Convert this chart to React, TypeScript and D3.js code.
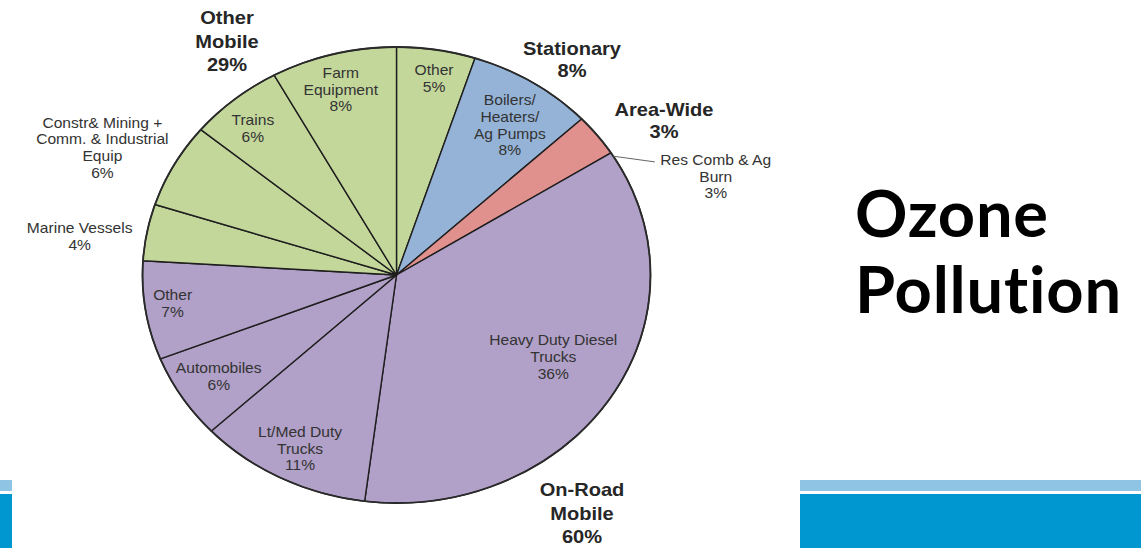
import React from "react";
import * as d3 from "d3";

// ---- data ----
const slices = [
  "Other",
  "Boilers/ Heaters/ Ag Pumps",
  "Res Comb & Ag Burn",
  "Heavy Duty Diesel Trucks",
  "Lt/Med Duty Trucks",
  "Automobiles",
  "Other",
  "Marine Vessels",
  "Constr& Mining + Comm. & Industrial Equip",
  "Trains",
  "Farm Equipment",
];
const sliceValues = [5, 8, 3, 36, 11, 6, 7, 4, 6, 6, 8];
const sliceGroups = ["mobile", "stationary", "area", "onroad", "onroad", "onroad", "onroad", "mobile", "mobile", "mobile", "mobile"];
const sliceLabelLines = [
  ["Other", "5%"],
  ["Boilers/", "Heaters/", "Ag Pumps", "8%"],
  ["Res Comb & Ag", "Burn", "3%"],
  ["Heavy Duty Diesel", "Trucks", "36%"],
  ["Lt/Med Duty", "Trucks", "11%"],
  ["Automobiles", "6%"],
  ["Other", "7%"],
  ["Marine Vessels", "4%"],
  ["Constr& Mining +", "Comm. & Industrial", "Equip", "6%"],
  ["Trains", "6%"],
  ["Farm", "Equipment", "8%"],
];
const groupNames = ["Other Mobile", "Stationary", "Area-Wide", "On-Road Mobile"];
const groupValues = [29, 8, 3, 60];
const groupLabelLines = [
  ["Other", "Mobile", "29%"],
  ["Stationary", "8%"],
  ["Area-Wide", "3%"],
  ["On-Road", "Mobile", "60%"],
];
const titleLines = ["Ozone", "Pollution"];

// ---- layout / style ----
const W = 1141;
const H = 548;
const CX = 396.5;
const CY = 275;
const RY = 228;
const SX = 254 / 228;
const groupColor: Record<string, string> = {
  mobile: "#c4d79b",
  stationary: "#95b3d7",
  area: "#e0908d",
  onroad: "#b1a0c7",
};
// label polar placement per slice: radius (px) and angle offset (deg)
const labelR = [199, 181, 303, 163, 194, 189, 203, 287, 293, 195, 192];
const labelDA = [0.75, 1.8, 18.85, -2.1, -0.5, 0, 0.9, -3.1, -3.1, -1.8, -0.7];
// group label positions (screen x, first line center y)
const groupLabelPos = [
  [227, 18],
  [572, 49],
  [664, 110],
  [582, 490],
];
const groupLineH = [23.5, 22, 22, 23.5];

const polar = (angDeg: number, r: number): [number, number] => {
  const a = (angDeg * Math.PI) / 180;
  return [Math.sin(a) * r, -Math.cos(a) * r];
};

export default function App() {
  const pie = d3.pie<number>().value((d) => d).sort(null)(sliceValues);
  const arc = d3.arc<d3.PieArcDatum<number>>().innerRadius(0).outerRadius(RY);

  const innerFont = 14;
  const innerLH = 16.8;

  // leader line for Res Comb
  const resArc = pie[2];
  const leadStartAng = (resArc.endAngle * 180) / Math.PI + 1;
  const p0 = polar(leadStartAng, RY);
  const p1 = polar(64, 258);

  return (
    <svg
      width={W}
      height={H}
      viewBox={`0 0 ${W} ${H}`}
      style={{ position: "fixed", left: 0, top: 0, background: "#fff" }}
    >
      <rect x={0} y={0} width={W} height={H} fill="#ffffff" />
      {/* bottom bands */}
      <rect x={0} y={480} width={12} height={11} fill="#8fc4e4" />
      <rect x={0} y={494} width={12} height={54} fill="#0096cf" />
      <rect x={800} y={480} width={341} height={11} fill="#8fc4e4" />
      <rect x={800} y={494} width={341} height={54} fill="#0096cf" />

      <g transform={`translate(${CX},${CY}) scale(${SX},1)`}>
        {pie.map((p, i) => (
          <path
            key={i}
            d={arc(p) || ""}
            fill={groupColor[sliceGroups[i]]}
            stroke="#1e1e1e"
            strokeWidth={1.4}
            strokeLinejoin="round"
            style={{ vectorEffect: "non-scaling-stroke" }}
          />
        ))}
        <ellipse
          cx={0}
          cy={0}
          rx={RY}
          ry={RY}
          fill="none"
          stroke="#2a2a2a"
          strokeWidth={1.8}
          style={{ vectorEffect: "non-scaling-stroke" }}
        />
        <line
          x1={p0[0]}
          y1={p0[1]}
          x2={p1[0]}
          y2={p1[1]}
          stroke="#666"
          strokeWidth={1}
          style={{ vectorEffect: "non-scaling-stroke" }}
        />
        {pie.map((p, i) => {
          const mid = (((p.startAngle + p.endAngle) / 2) * 180) / Math.PI;
          const [x, y] = polar(mid + labelDA[i], labelR[i]);
          const lines = sliceLabelLines[i];
          const y0 = y - ((lines.length - 1) * innerLH) / 2;
          return (
            <text
              key={"l" + i}
              x={x}
              fontFamily="'Liberation Sans', Arial, sans-serif"
              fontSize={innerFont}
              fill="#333"
              textAnchor="middle"
            >
              {lines.map((ln, j) => (
                <tspan key={j} x={x} y={y0 + j * innerLH} dy="0.35em">
                  {ln}
                </tspan>
              ))}
            </text>
          );
        })}
        {groupLabelLines.map((lines, i) => {
          const gx = (groupLabelPos[i][0] - CX) / SX;
          const gy = groupLabelPos[i][1] - CY;
          return (
            <text
              key={"g" + i}
              fontFamily="'Liberation Sans', Arial, sans-serif"
              fontSize={18}
              fontWeight={700}
              fill="#262626"
              textAnchor="middle"
            >
              {lines.map((ln, j) => (
                <tspan key={j} x={gx} y={gy + j * groupLineH[i]} dy="0.35em">
                  {ln}
                </tspan>
              ))}
            </text>
          );
        })}
      </g>

      <text
        fontFamily="Lato, 'Open Sans', sans-serif"
        fontWeight={700}
        fontSize={65}
        letterSpacing={0.8}
        fill="#000"
        style={{ fontVariantLigatures: "none", fontFeatureSettings: "'liga' 0, 'clig' 0" }}
      >
        <tspan x={855} y={237}>
          {titleLines[0]}
        </tspan>
        <tspan x={855} y={313}>
          {titleLines[1]}
        </tspan>
      </text>
    </svg>
  );
}
